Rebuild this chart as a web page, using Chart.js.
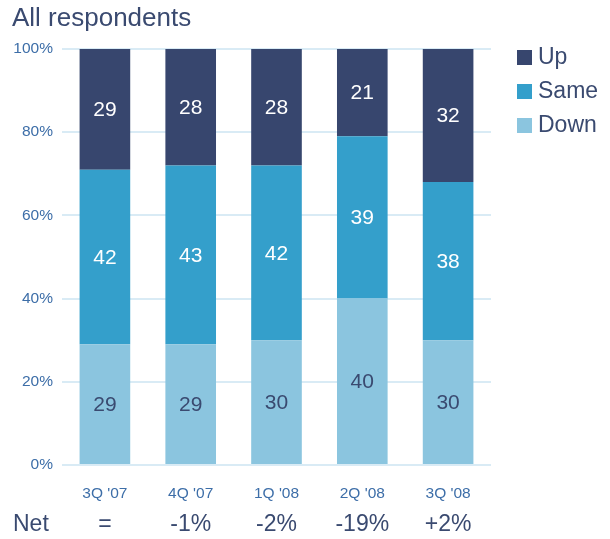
<!DOCTYPE html>
<html>
<head>
<meta charset="utf-8">
<style>
  html, body { margin: 0; padding: 0; background: #fff; }
  #wrap { position: relative; width: 610px; height: 539px; }
</style>
<script src="https://cdn.jsdelivr.net/npm/chart.js@4/dist/chart.umd.min.js"></script>
</head>
<body>
<div id="wrap"><canvas id="grafica" width="610" height="539"></canvas></div>
<script>
const trimestres = ["3Q '07", "4Q '07", "1Q '08", "2Q '08", "3Q '08"];
const bajan = [29, 29, 30, 40, 30];
const igual = [42, 43, 42, 39, 38];
const suben = [29, 28, 28, 21, 32];
const neto = ['=', '-1%', '-2%', '-19%', '+2%'];
const marcasY = [0, 20, 40, 60, 80, 100];

const fuente = '"Liberation Sans", Arial, sans-serif';
const textoOscuro = '#3a4a70';
const colores = { up: '#37466e', same: '#349fcb', down: '#8bc5df' };

// etiquetas de valor dentro de cada segmento
const etiquetas = {
	id: 'etiquetas',
	afterDatasetsDraw(chart) {
		const ctx = chart.ctx;
		ctx.save();
		ctx.font = '21px ' + fuente;
		ctx.textAlign = 'center';
		ctx.textBaseline = 'middle';
		chart.data.datasets.forEach((ds, i) => {
			chart.getDatasetMeta(i).data.forEach((bar, j) => {
				ctx.fillStyle = ds.label === 'Down' ? textoOscuro : '#ffffff';
				ctx.fillText(ds.data[j], bar.x, (bar.y + bar.base) / 2 + 1);
			});
		});
		ctx.restore();
	}
};

// titulo, leyenda y fila "Net"
const extras = {
	id: 'extras',
	afterDraw(chart) {
		const ctx = chart.ctx;
		const x = chart.scales.x;
		ctx.save();
		ctx.fillStyle = textoOscuro;
		ctx.textBaseline = 'middle';
		ctx.textAlign = 'left';
		ctx.font = '26px ' + fuente;
		ctx.fillText('All respondents', 12, 19);

		ctx.font = '23px ' + fuente;
		ctx.fillText('Net', 13, 525);
		ctx.textAlign = 'center';
		neto.forEach((v, i) => {
			ctx.fillText(v, x.getPixelForValue(i), 525);
		});

		const items = [['Up', colores.up], ['Same', colores.same], ['Down', colores.down]];
		items.forEach((it, i) => {
			const y = 58 + i * 34;
			ctx.fillStyle = it[1];
			ctx.fillRect(517, y - 8, 15, 15);
			ctx.fillStyle = textoOscuro;
			ctx.textAlign = 'left';
			ctx.fillText(it[0], 538, y);
		});
		ctx.restore();
	}
};

new Chart(document.getElementById('grafica'), {
	type: 'bar',
	data: {
		labels: trimestres,
		datasets: [
			{ label: 'Down', data: bajan, backgroundColor: colores.down },
			{ label: 'Same', data: igual, backgroundColor: colores.same },
			{ label: 'Up', data: suben, backgroundColor: colores.up }
		]
	},
	options: {
		responsive: false,
		animation: false,
		layout: { padding: { top: 49, right: 119, left: 0, bottom: 0 } },
		plugins: {
			legend: { display: false },
			title: { display: false },
			tooltip: { enabled: false }
		},
		datasets: {
			bar: { categoryPercentage: 1, barPercentage: 0.59 }
		},
		scales: {
			x: {
				stacked: true,
				grid: { display: false },
				border: { display: false },
				ticks: {
					color: '#3d6ea8',
					font: { family: fuente, size: 15.5 },
					padding: 11
				},
				afterFit(scale) { scale.height = 74; }
			},
			y: {
				stacked: true,
				min: 0,
				max: 100,
				afterBuildTicks(scale) {
					scale.ticks = marcasY.map(v => ({ value: v }));
				},
				grid: {
					color: '#d9ebf5',
					lineWidth: 2,
					drawTicks: false
				},
				border: { display: false },
				ticks: {
					color: '#3d6ea8',
					font: { family: fuente, size: 15.5 },
					padding: 9,
					callback: v => v + '%'
				},
				afterFit(scale) { scale.width = 62; }
			}
		}
	},
	plugins: [etiquetas, extras]
});
</script>
</body>
</html>
